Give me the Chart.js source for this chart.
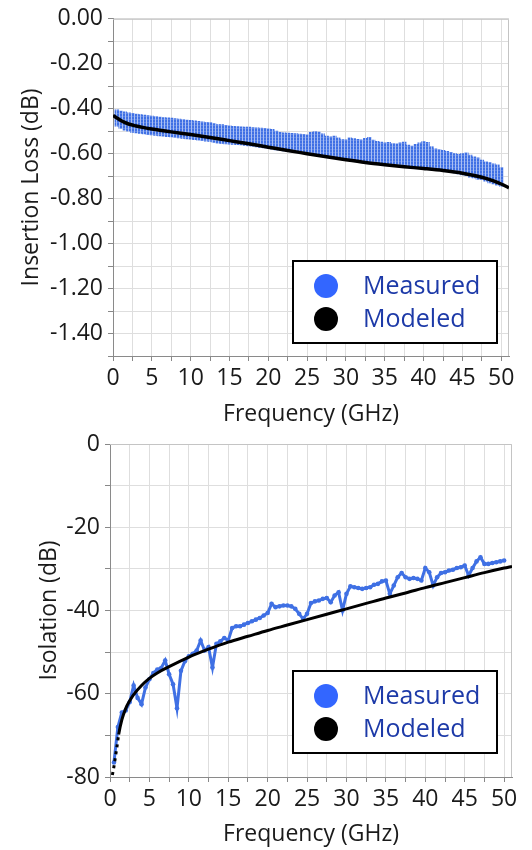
<!DOCTYPE html>
<html lang="en">
<head>
<meta charset="UTF-8" />
<title>Insertion Loss and Isolation vs Frequency</title>
<script src="https://cdn.jsdelivr.net/npm/chart.js"></script>
<style>
  html, body { margin: 0; padding: 0; background: #ffffff; }
  #wrap { position: relative; width: 532px; height: 850px; overflow: hidden; }
  .panel { position: absolute; left: 0; width: 532px; }
  #topPanel { top: 0; height: 430px; }
  #botPanel { top: 420px; height: 430px; }
</style>
</head>
<body>
<div id="wrap">
  <div class="panel" id="topPanel"><canvas id="ilChart" width="532" height="430"></canvas></div>
  <div class="panel" id="botPanel"><canvas id="isoChart" width="532" height="430"></canvas></div>
</div>
<script>
// measured frequency points (GHz)
const freq = [
  0.5, 1.0, 1.5, 2.0, 2.5, 3.0, 3.5, 4.0, 4.5, 5.0,
  5.5, 6.0, 6.5, 7.0, 7.5, 8.0, 8.5, 9.0, 9.5, 10.0,
  10.5, 11.0, 11.5, 12.0, 12.5, 13.0, 13.5, 14.0, 14.5, 15.0,
  15.5, 16.0, 16.5, 17.0, 17.5, 18.0, 18.5, 19.0, 19.5, 20.0,
  20.5, 21.0, 21.5, 22.0, 22.5, 23.0, 23.5, 24.0, 24.5, 25.0,
  25.5, 26.0, 26.5, 27.0, 27.5, 28.0, 28.5, 29.0, 29.5, 30.0,
  30.5, 31.0, 31.5, 32.0, 32.5, 33.0, 33.5, 34.0, 34.5, 35.0,
  35.5, 36.0, 36.5, 37.0, 37.5, 38.0, 38.5, 39.0, 39.5, 40.0,
  40.5, 41.0, 41.5, 42.0, 42.5, 43.0, 43.5, 44.0, 44.5, 45.0,
  45.5, 46.0, 46.5, 47.0, 47.5, 48.0, 48.5, 49.0, 49.5, 50.0
];

// insertion loss, measured spread (top / bottom of the point cloud), dB
const ilMeasTop = [
  -0.405, -0.410, -0.414, -0.418, -0.421, -0.424, -0.426, -0.428, -0.431, -0.433,
  -0.435, -0.437, -0.439, -0.441, -0.442, -0.444, -0.446, -0.448, -0.450, -0.452,
  -0.454, -0.456, -0.458, -0.460, -0.462, -0.466, -0.470, -0.471, -0.474, -0.476,
  -0.478, -0.479, -0.481, -0.482, -0.482, -0.484, -0.485, -0.486, -0.487, -0.489,
  -0.492, -0.500, -0.505, -0.507, -0.508, -0.509, -0.511, -0.513, -0.514, -0.516,
  -0.505, -0.502, -0.504, -0.512, -0.522, -0.525, -0.522, -0.530, -0.537, -0.538,
  -0.530, -0.533, -0.536, -0.538, -0.532, -0.527, -0.540, -0.545, -0.548, -0.552,
  -0.550, -0.555, -0.556, -0.552, -0.548, -0.562, -0.566, -0.558, -0.552, -0.546,
  -0.550, -0.568, -0.578, -0.582, -0.585, -0.590, -0.594, -0.600, -0.603, -0.600,
  -0.596, -0.606, -0.614, -0.618, -0.628, -0.636, -0.640, -0.645, -0.650, -0.662
];
const ilMeasBot = [
  -0.478, -0.488, -0.495, -0.500, -0.505, -0.508, -0.510, -0.512, -0.515, -0.517,
  -0.519, -0.521, -0.522, -0.524, -0.526, -0.528, -0.530, -0.532, -0.534, -0.536,
  -0.538, -0.540, -0.542, -0.544, -0.546, -0.550, -0.553, -0.555, -0.557, -0.558,
  -0.559, -0.560, -0.561, -0.563, -0.566, -0.568, -0.570, -0.572, -0.574, -0.576,
  -0.580, -0.583, -0.586, -0.588, -0.590, -0.592, -0.594, -0.596, -0.598, -0.600,
  -0.603, -0.606, -0.606, -0.612, -0.612, -0.618, -0.618, -0.622, -0.624, -0.628,
  -0.630, -0.632, -0.634, -0.636, -0.640, -0.642, -0.644, -0.646, -0.648, -0.650,
  -0.652, -0.654, -0.656, -0.658, -0.660, -0.662, -0.664, -0.664, -0.666, -0.668,
  -0.670, -0.672, -0.674, -0.676, -0.678, -0.680, -0.683, -0.686, -0.690, -0.694,
  -0.698, -0.704, -0.708, -0.714, -0.716, -0.722, -0.730, -0.735, -0.740, -0.745
];

// insertion loss, modeled
const ilModelFreq = [0, 0.5, 1, 1.5, 2, 3, 4, 5, 7.5, 10, 12.5, 15, 17.5, 20, 22.5,
  25, 27.5, 30, 32.5, 35, 37.5, 40, 42.5, 45, 47.5, 49, 50, 51];
const ilModel = [-0.430, -0.441, -0.452, -0.461, -0.468, -0.477, -0.484, -0.490, -0.503,
  -0.515, -0.528, -0.542, -0.556, -0.571, -0.586, -0.600, -0.614, -0.627, -0.639, -0.649,
  -0.658, -0.666, -0.675, -0.687, -0.705, -0.721, -0.735, -0.752];

// isolation, measured (dB) at freq[]
const isoMeas = [
  -76.5, -68.0, -64.5, -64.0, -62.0, -58.0, -61.0, -62.5, -58.5, -56.5,
  -55.0, -54.2, -53.8, -52.0, -55.3, -57.7, -63.5, -54.5, -52.2, -51.0,
  -50.4, -49.6, -47.2, -49.6, -48.8, -53.7, -48.0, -47.4, -46.6, -47.2,
  -44.2, -43.8, -43.8, -43.4, -43.0, -42.6, -42.2, -41.8, -41.2, -40.6,
  -38.4, -39.2, -39.0, -38.8, -38.8, -39.0, -39.6, -40.8, -42.0, -40.8,
  -38.2, -37.8, -37.6, -37.2, -37.0, -38.0, -36.4, -35.6, -40.0, -36.0,
  -34.2, -34.4, -34.6, -34.8, -34.6, -34.4, -33.8, -33.6, -33.0, -32.8,
  -36.0, -34.0, -32.0, -31.0, -32.0, -32.4, -32.2, -32.4, -32.8, -29.8,
  -30.8, -34.0, -32.0, -31.0, -30.8, -30.4, -30.2, -29.8, -29.6, -29.2,
  -31.6, -29.8, -28.2, -27.2, -28.8, -28.8, -28.6, -28.4, -28.2, -28.0
];

// isolation, modeled
const isoModelFreq = [0.3, 0.5, 0.7, 0.9, 1.1, 1.5, 2, 2.5, 3, 4, 5, 6, 7.5, 10, 12.5,
  15, 17.5, 20, 22.5, 25, 27.5, 30, 32.5, 35, 37.5, 40, 42.5, 45, 47.5, 50, 51];
const isoModel = [-79.5, -77.5, -75.0, -72.5, -69.8, -66.3, -63.5, -61.7, -60.2, -58.0,
  -56.3, -55.0, -53.5, -51.2, -49.3, -47.6, -46.2, -44.8, -43.5, -42.2, -40.9, -39.6,
  -38.3, -37.0, -35.8, -34.5, -33.3, -32.1, -30.9, -29.8, -29.4];

const seriesNames = ['Measured', 'Modeled'];

const BLUE = '#3f70e4';
const TEXT = '#1a1a1a';
const GRID = '#dedede';
Chart.defaults.font.family = "'Open Sans', 'Noto Sans', sans-serif";
Chart.defaults.animation = false;

// column-of-dots fill so the measured band reads as a cloud of points
function dotPattern() {
  const c = document.createElement('canvas');
  c.width = 3; c.height = 3;
  const g = c.getContext('2d');
  g.fillStyle = BLUE;
  g.fillRect(0, 0, 3, 3);
  g.fillStyle = '#5f87ea';
  g.fillRect(0, 2, 2, 1);
  g.fillStyle = '#a9bff3';
  g.fillRect(2, 0, 1, 3);
  return g.createPattern(c, 'repeat');
}

// light frame on top and right of the plot area
const frame = {
  id: 'frame',
  beforeDatasetsDraw(chart) {
    const { ctx, chartArea: a } = chart;
    ctx.save();
    ctx.strokeStyle = '#c4c4c4';
    ctx.lineWidth = 1;
    ctx.beginPath();
    ctx.moveTo(a.left, a.top + 0.5);
    ctx.lineTo(a.right - 0.5, a.top + 0.5);
    ctx.lineTo(a.right - 0.5, a.bottom);
    ctx.stroke();
    ctx.restore();
  }
};

// legend box drawn inside the plot, lower right
const boxLegend = {
  id: 'boxLegend',
  afterDatasetsDraw(chart, args, o) {
    const { ctx, chartArea: a } = chart;
    const w = 204, h = 82;
    const x = a.right - o.right - w;
    const y = a.bottom - o.bottom - h;
    ctx.save();
    ctx.fillStyle = '#ffffff';
    ctx.fillRect(x, y, w, h);
    ctx.lineWidth = 2;
    ctx.strokeStyle = '#000000';
    ctx.strokeRect(x, y, w, h);
    const colors = ['#3366ff', '#000000'];
    seriesNames.forEach((name, i) => {
      const cy = y + 25 + i * 33;
      ctx.beginPath();
      ctx.arc(x + 33, cy, 12, 0, Math.PI * 2);
      ctx.fillStyle = colors[i];
      ctx.fill();
      ctx.fillStyle = '#1d3aa8';
      ctx.font = "25px 'Open Sans', 'Noto Sans', sans-serif";
      ctx.textBaseline = 'middle';
      ctx.fillText(name, x + 70, cy + 1);
    });
    ctx.restore();
  }
};

function freqAxis(height) {
  return {
    type: 'linear',
    min: 0,
    max: 51,
    offset: false,
    ticks: {
      stepSize: 2.5,
      includeBounds: false,
      autoSkip: false,
      maxRotation: 0,
      color: TEXT,
      font: { size: 23 },
      padding: 4,
      callback: v => (v % 5 === 0 ? String(v) : '')
    },
    grid: { color: GRID, tickLength: 5, tickColor: '#888888', offset: false },
    border: { color: '#8a8a8a' },
    title: { display: true, text: 'Frequency (GHz)', color: TEXT, font: { size: 23 }, padding: { top: 0, bottom: 2 } },
    afterFit: s => { s.height = height; }
  };
}

new Chart(document.getElementById('ilChart'), {
  type: 'bar',
  data: {
    datasets: [
      {
        type: 'bar',
        label: seriesNames[0],
        data: freq.map((f, i) => ({ x: f, y: [ilMeasBot[i], ilMeasTop[i]] })),
        backgroundColor: dotPattern(),
        barPercentage: 1,
        categoryPercentage: 1,
        order: 2
      },
      {
        type: 'line',
        label: seriesNames[1],
        data: ilModelFreq.map((f, i) => ({ x: f, y: ilModel[i] })),
        borderColor: '#000000',
        borderWidth: 3.5,
        pointRadius: 0,
        cubicInterpolationMode: 'monotone',
        order: 1
      }
    ]
  },
  options: {
    responsive: false,
    events: [],
    layout: { padding: { left: 18, right: 23, top: 15, bottom: 0 } },
    plugins: {
      legend: { display: false },
      tooltip: { enabled: false },
      boxLegend: { right: 12, bottom: 13 }
    },
    scales: {
      x: freqAxis(74),
      y: {
        min: -1.5,
        max: 0,
        ticks: {
          stepSize: 0.1,
          autoSkip: false,
          color: TEXT,
          font: { size: 23 },
          padding: 5,
          callback: v => (Math.round(v * 10) % 2 === 0 ? v.toFixed(2) : '')
        },
        grid: { color: GRID, tickLength: 5, tickColor: '#888888' },
        border: { color: '#8a8a8a' },
        title: { display: true, text: 'Insertion Loss (dB)', color: TEXT, font: { size: 23 }, padding: 0 },
        afterFit: s => { s.width = 113 - 18; }
      }
    }
  },
  plugins: [frame, boxLegend]
});

new Chart(document.getElementById('isoChart'), {
  type: 'line',
  data: {
    datasets: [
      {
        label: seriesNames[0],
        data: freq.map((f, i) => ({ x: f, y: isoMeas[i] })),
        borderColor: BLUE,
        backgroundColor: BLUE,
        borderWidth: 3,
        pointRadius: 2.3,
        pointBorderWidth: 0,
        order: 2
      },
      {
        label: seriesNames[1],
        data: isoModelFreq.map((f, i) => ({ x: f, y: isoModel[i] })),
        borderColor: '#000000',
        borderWidth: 3,
        pointRadius: 0,
        cubicInterpolationMode: 'monotone',
        segment: { borderDash: c => (c.p0.parsed.x < 1 ? [3, 4] : undefined) },
        order: 1
      }
    ]
  },
  options: {
    responsive: false,
    events: [],
    layout: { padding: { left: 36, right: 20, top: 24, bottom: 0 } },
    plugins: {
      legend: { display: false },
      tooltip: { enabled: false },
      boxLegend: { right: 15, bottom: 24 }
    },
    scales: {
      x: freqAxis(73),
      y: {
        min: -80,
        max: 0,
        ticks: {
          stepSize: 10,
          autoSkip: false,
          color: TEXT,
          font: { size: 23 },
          padding: 5,
          callback: v => (v % 20 === 0 ? String(v) : '')
        },
        grid: { color: GRID, tickLength: 5, tickColor: '#888888' },
        border: { color: '#8a8a8a' },
        title: { display: true, text: 'Isolation (dB)', color: TEXT, font: { size: 23 }, padding: 0 },
        afterFit: s => { s.width = 110 - 36; }
      }
    }
  },
  plugins: [frame, boxLegend]
});
</script>
</body>
</html>
